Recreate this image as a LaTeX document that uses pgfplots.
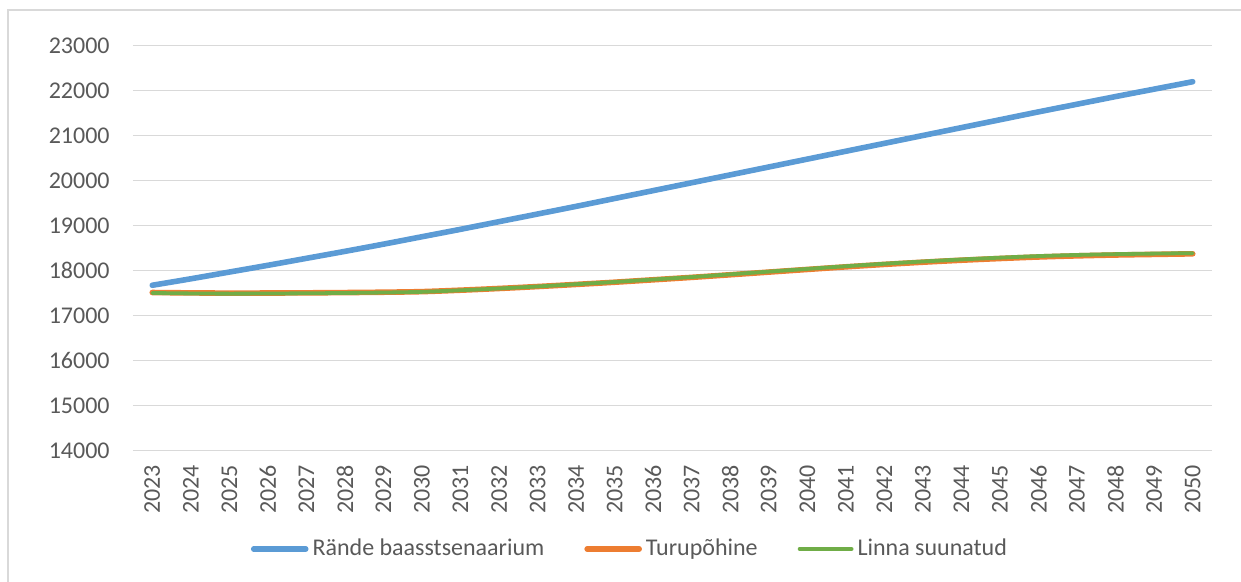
\documentclass[border=0pt]{standalone}
\usepackage{pgfplots}
\pgfplotsset{compat=1.18}
\usepackage{fontspec}
\setmainfont{Carlito}

\definecolor{cblue}{HTML}{5B9BD5}
\definecolor{corange}{HTML}{ED7D31}
\definecolor{cgreen}{HTML}{70AD47}
\definecolor{ctext}{HTML}{595959}
\definecolor{cgrid}{HTML}{D9D9D9}

\begin{document}
\begin{tikzpicture}
\useasboundingbox (-66.5pt,-65.65pt) rectangle (554pt,225.35pt);
\draw[cgrid, line width=0.8pt] (-62.5pt,-70pt) -- (-62.5pt,220.35pt) -- (560pt,220.35pt);
\begin{axis}[
  at={(0,0)}, anchor=south west,
  scale only axis,
  width=539.5pt, height=202.5pt,
  xmin=2022.5, xmax=2050.5,
  ymin=14000, ymax=23000,
  xtick={2023,2024,...,2050},
  ytick={14000,15000,...,23000},
  scaled ticks=false,
  /pgf/number format/.cd, 1000 sep={}, assume math mode=true,
  /pgfplots/.cd,
  axis line style={draw=none},
  major tick length=0pt,
  ymajorgrids,
  grid style={cgrid, line width=0.75pt},
  tick label style={font=\fontsize{12}{14}\selectfont, text=ctext},
  xticklabel style={rotate=90, anchor=east, inner sep=0pt},
  yticklabel style={anchor=east, inner sep=0pt},
  xticklabel shift=7pt,
  yticklabel shift=11.5pt,
  legend columns=3,
  legend style={draw=none, fill=none, at={(0.4615,-0.2427)}, anchor=center,
    font=\fontsize{12}{14}\selectfont, text=ctext,
    /tikz/every even column/.append style={column sep=18pt}},
  legend cell align=left,
  legend image code/.code={\draw[#1, line cap=round] (0pt,0pt) -- (26pt,0pt);},
]
\addplot[cblue, line width=2.8pt, line cap=round, smooth] coordinates {
 (2023,17676) (2024,17820) (2025,17970) (2026,18120) (2027,18275) (2028,18430)
 (2029,18590) (2030,18755) (2031,18920) (2032,19090) (2033,19260) (2034,19430)
 (2035,19605) (2036,19780) (2037,19955) (2038,20130) (2039,20305) (2040,20480)
 (2041,20655) (2042,20830) (2043,21005) (2044,21180) (2045,21355) (2046,21530)
 (2047,21700) (2048,21870) (2049,22035) (2050,22200)};
\addlegendentry{Rände baasstsenaarium}
\addplot[corange, line width=2.8pt, line cap=round, smooth] coordinates {
 (2023,17515) (2024,17507) (2025,17502) (2026,17504) (2027,17508) (2028,17514)
 (2029,17522) (2030,17535) (2031,17567) (2032,17605) (2033,17648) (2034,17695)
 (2035,17744) (2036,17798) (2037,17852) (2038,17910) (2039,17969) (2040,18028)
 (2041,18086) (2042,18140) (2043,18189) (2044,18233) (2045,18271) (2046,18305)
 (2047,18330) (2048,18349) (2049,18362) (2050,18375)};
\addlegendentry{Turupõhine}
\addplot[cgreen, line width=1.9pt, line cap=round, smooth] coordinates {
 (2023,17505) (2024,17495) (2025,17490) (2026,17493) (2027,17498) (2028,17505)
 (2029,17515) (2030,17530) (2031,17565) (2032,17605) (2033,17650) (2034,17700)
 (2035,17750) (2036,17805) (2037,17860) (2038,17920) (2039,17980) (2040,18040)
 (2041,18100) (2042,18155) (2043,18205) (2044,18250) (2045,18290) (2046,18325)
 (2047,18350) (2048,18368) (2049,18380) (2050,18390)};
\addlegendentry{Linna suunatud}
\end{axis}
\end{tikzpicture}
\end{document}
